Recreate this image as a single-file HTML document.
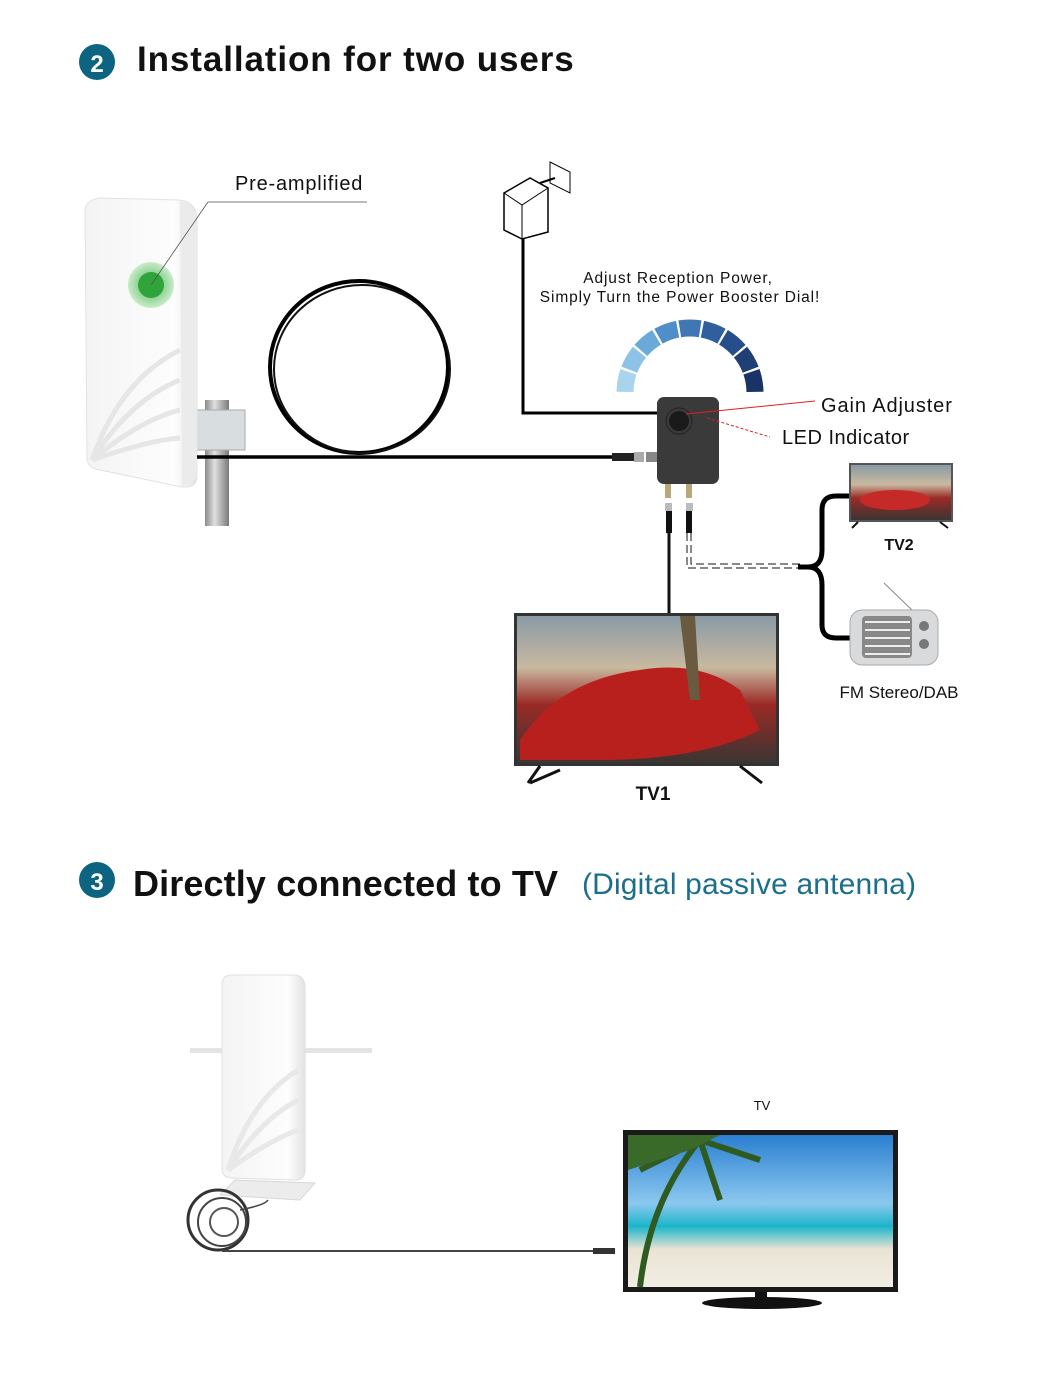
<!DOCTYPE html>
<html><head><meta charset="utf-8"><style>
html,body{margin:0;padding:0;background:#fff;}
svg{display:block;}
text{font-family:"Liberation Sans",sans-serif;}
</style></head><body>
<svg width="1045" height="1395" viewBox="0 0 1045 1395" xmlns="http://www.w3.org/2000/svg">
<defs>
<linearGradient id="pole" x1="0" x2="1"><stop offset="0" stop-color="#8a8a8a"/><stop offset=".4" stop-color="#e0e0e0"/><stop offset="1" stop-color="#7a7a7a"/></linearGradient>
<linearGradient id="ant" x1="0" x2="1"><stop offset="0" stop-color="#f4f4f4"/><stop offset=".8" stop-color="#fdfdfd"/><stop offset="1" stop-color="#e2e2e2"/></linearGradient>
<linearGradient id="scr1" x1="0" y1="0" x2="0" y2="1"><stop offset="0" stop-color="#8a9aa5"/><stop offset=".35" stop-color="#c9b9a0"/><stop offset=".6" stop-color="#9b2a25"/><stop offset="1" stop-color="#3a3533"/></linearGradient>
<linearGradient id="beach" x1="0" y1="0" x2="0" y2="1"><stop offset="0" stop-color="#2a7fd0"/><stop offset=".45" stop-color="#8cc8ef"/><stop offset=".6" stop-color="#1bb5c9"/><stop offset=".75" stop-color="#e9e3d3"/><stop offset="1" stop-color="#f2eee4"/></linearGradient>
<radialGradient id="glow"><stop offset=".5" stop-color="#2fa43a"/><stop offset=".55" stop-color="#8fd396"/><stop offset="1" stop-color="#c9ecc9"/></radialGradient>
</defs>

<circle cx="97" cy="62" r="18" fill="#0c6480"/>
<text x="97" y="72" text-anchor="middle" font-size="24" font-weight="bold" fill="#fff">2</text>
<text x="137" y="71" font-size="35" font-weight="bold" fill="#111" letter-spacing=".9">Installation for two users</text>

<rect x="205" y="400" width="24" height="126" fill="url(#pole)"/>
<path d="M196 410 L245 410 L245 450 L196 450 Z" fill="#d8dde0" stroke="#aaa"/>
<path d="M85 210 Q86 200 100 198 L180 200 Q196 202 197 218 L197 478 Q196 488 182 487 L100 470 Q87 468 87 458 Z" fill="url(#ant)" stroke="#e2e2e2"/>
<path d="M180 200 Q195 205 197 218 L197 478 L182 487 L180 200Z" fill="#ebebeb"/>
<path d="M92 460 Q120 380 180 350 M92 460 Q130 400 180 380 M92 460 Q140 420 180 410 M92 460 Q150 440 180 438" stroke="#e6e6e6" stroke-width="5" fill="none"/>
<circle cx="151" cy="285" r="23" fill="url(#glow)"/>
<circle cx="151" cy="285" r="13" fill="#2fa43a"/>
<line x1="151" y1="285" x2="208" y2="202" stroke="#555" stroke-width=".8"/>
<line x1="208" y1="202" x2="367" y2="202" stroke="#777" stroke-width="1"/>
<text x="235" y="190" font-size="20" fill="#111" letter-spacing=".8">Pre-amplified</text>

<ellipse cx="359" cy="367" rx="89" ry="86" fill="none" stroke="#000" stroke-width="4"/>
<ellipse cx="362" cy="369" rx="88" ry="84" fill="none" stroke="#111" stroke-width="2"/>
<line x1="197" y1="457" x2="620" y2="457" stroke="#000" stroke-width="3.5"/>
<rect x="612" y="453" width="22" height="8" fill="#222"/>
<rect x="634" y="452" width="10" height="10" fill="#aaa"/>
<rect x="646" y="452" width="12" height="10" fill="#888"/>

<path d="M504 193 L530 178 L548 188 L548 232 L522 239 L504 230 Z" fill="#fff" stroke="#000" stroke-width="1.5"/>
<path d="M504 193 L522 205 L548 188" fill="none" stroke="#000" stroke-width="1"/>
<line x1="522" y1="205" x2="522" y2="239" stroke="#000"/>
<path d="M550 162 L570 172 L570 193 L550 183 Z" fill="#fff" stroke="#000"/>
<line x1="540" y1="183" x2="555" y2="178" stroke="#000" stroke-width="2"/>
<polyline points="523,239 523,413 660,413" fill="none" stroke="#000" stroke-width="3"/>

<text x="678" y="283" text-anchor="middle" font-size="15.5" fill="#111" letter-spacing=".9">Adjust Reception Power,</text>
<text x="680" y="302" text-anchor="middle" font-size="15.5" fill="#111" letter-spacing=".9">Simply Turn the Power Booster Dial!</text>

<g fill="none" stroke-width="17">
<path d="M625.0 391.9 A65 65 0 0 1 628.5 371.8" stroke="#a8d4ee"/>
<path d="M629.3 369.7 A65 65 0 0 1 639.5 352.1" stroke="#8cc3e6"/>
<path d="M640.9 350.4 A65 65 0 0 1 656.5 337.3" stroke="#6aaadb"/>
<path d="M658.5 336.2 A65 65 0 0 1 677.6 329.2" stroke="#4f8ec9"/>
<path d="M679.8 328.8 A65 65 0 0 1 700.2 328.8" stroke="#3f76b3"/>
<path d="M702.4 329.2 A65 65 0 0 1 721.5 336.2" stroke="#2f5f9e"/>
<path d="M723.5 337.3 A65 65 0 0 1 739.1 350.4" stroke="#264e8a"/>
<path d="M740.5 352.1 A65 65 0 0 1 750.7 369.7" stroke="#1f3f75"/>
<path d="M751.5 371.8 A65 65 0 0 1 755.0 391.9" stroke="#1a3366"/>
</g>

<rect x="657" y="397" width="62" height="87" rx="7" fill="#3a3a3a"/>
<circle cx="679" cy="421" r="10" fill="#1a1a1a"/>
<circle cx="679" cy="421" r="13" fill="none" stroke="#222" stroke-width="1"/>
<rect x="665" y="484" width="6" height="14" fill="#b8a878"/>
<rect x="686" y="484" width="6" height="14" fill="#b8a878"/>
<line x1="686" y1="414" x2="815" y2="401" stroke="#e02020" stroke-width="1"/>
<line x1="707" y1="418" x2="770" y2="437" stroke="#e02020" stroke-width="1" stroke-dasharray="3,2"/>
<text x="821" y="412" font-size="20" fill="#111" letter-spacing=".9">Gain Adjuster</text>
<text x="782" y="444" font-size="20" fill="#111" letter-spacing=".5">LED Indicator</text>

<rect x="665" y="503" width="7" height="8" fill="#bbb"/>
<rect x="686" y="503" width="7" height="8" fill="#bbb"/>
<rect x="666" y="511" width="6" height="22" fill="#111"/>
<rect x="686" y="511" width="6" height="22" fill="#111"/>
<line x1="669" y1="533" x2="669" y2="614" stroke="#111" stroke-width="3"/>
<path d="M687 533 L687 568 L800 568" fill="none" stroke="#111" stroke-width="1" stroke-dasharray="8,4"/>
<path d="M691 533 L691 564 L800 564" fill="none" stroke="#111" stroke-width="1" stroke-dasharray="8,4"/>
<path d="M798 567 L808 567 Q822 567 822 550 L822 510 Q822 496 836 496 L850 496" fill="none" stroke="#000" stroke-width="5"/>
<path d="M808 567 Q822 567 822 585 L822 625 Q822 638 836 638 L852 638" fill="none" stroke="#000" stroke-width="5"/>

<rect x="849" y="463" width="104" height="59" fill="#555"/>
<rect x="851" y="465" width="100" height="55" fill="url(#scr1)"/>
<ellipse cx="895" cy="500" rx="35" ry="10" fill="#c62a28"/>
<line x1="858" y1="522" x2="852" y2="528" stroke="#111" stroke-width="2"/>
<line x1="940" y1="522" x2="948" y2="528" stroke="#111" stroke-width="2"/>
<text x="899" y="550" text-anchor="middle" font-size="16" font-weight="bold" fill="#111">TV2</text>

<line x1="884" y1="583" x2="912" y2="610" stroke="#888" stroke-width="1"/>
<rect x="850" y="610" width="88" height="55" rx="12" fill="#d8dadc" stroke="#aaa"/>
<rect x="862" y="616" width="50" height="42" rx="4" fill="#888"/>
<g stroke="#eee" stroke-width="2"><line x1="865" y1="622" x2="910" y2="622"/><line x1="865" y1="630" x2="910" y2="630"/><line x1="865" y1="638" x2="910" y2="638"/><line x1="865" y1="646" x2="910" y2="646"/><line x1="865" y1="654" x2="910" y2="654"/></g>
<circle cx="924" cy="626" r="5" fill="#777"/><circle cx="924" cy="644" r="5" fill="#777"/>
<text x="899" y="698" text-anchor="middle" font-size="17" fill="#111">FM Stereo/DAB</text>

<rect x="514" y="613" width="265" height="153" fill="#333"/>
<rect x="517" y="616" width="259" height="147" fill="url(#scr1)"/>
<path d="M520 740 Q560 680 640 670 Q700 660 740 690 L760 730 Q700 760 600 760 L520 760Z" fill="#b8201e"/>
<path d="M680 616 L690 700 L700 700 L695 616Z" fill="#6a5a40"/>
<path d="M540 766 L528 783 M530 783 L560 770" stroke="#111" stroke-width="3" fill="none"/>
<path d="M740 766 L762 783" stroke="#111" stroke-width="3"/>
<text x="653" y="800" text-anchor="middle" font-size="19" font-weight="bold" fill="#111">TV1</text>

<circle cx="97" cy="880" r="18" fill="#0c6480"/>
<text x="97" y="890" text-anchor="middle" font-size="24" font-weight="bold" fill="#fff">3</text>
<text x="133" y="896" font-size="36" font-weight="bold" fill="#111" textLength="425">Directly connected to TV</text>
<text x="582" y="894" font-size="30" fill="#1a6f8a" textLength="334">(Digital passive antenna)</text>

<rect x="190" y="1048" width="182" height="5" fill="#e4e4e4"/>
<path d="M222 985 Q222 975 232 975 L295 975 Q305 976 305 988 L305 1170 Q305 1180 295 1180 L232 1178 Q222 1178 222 1168 Z" fill="url(#ant)" stroke="#e0e0e0"/>
<path d="M228 1170 Q250 1100 298 1070 M228 1170 Q260 1120 298 1100 M228 1170 Q270 1140 298 1130" stroke="#e8e8e8" stroke-width="5" fill="none"/>
<path d="M235 1180 L315 1183 L300 1200 L220 1195 Z" fill="#ececec" stroke="#d8d8d8"/>
<circle cx="218" cy="1220" r="30" fill="none" stroke="#333" stroke-width="3"/>
<circle cx="222" cy="1222" r="24" fill="none" stroke="#444" stroke-width="2"/>
<circle cx="224" cy="1222" r="14" fill="none" stroke="#555" stroke-width="2"/>
<path d="M240 1210 Q265 1205 268 1200" stroke="#444" fill="none" stroke-width="1.5"/>
<line x1="222" y1="1251" x2="595" y2="1251" stroke="#444" stroke-width="2"/>
<rect x="593" y="1248" width="22" height="6" fill="#333"/>

<text x="762" y="1110" text-anchor="middle" font-size="13" fill="#111">TV</text>
<rect x="623" y="1130" width="275" height="162" fill="#1a1a1a"/>
<rect x="628" y="1135" width="265" height="152" fill="url(#beach)"/>
<path d="M640 1287 Q650 1200 700 1140 M700 1140 L640 1170 M700 1140 L760 1160 M700 1140 L720 1200" stroke="#2f5a20" stroke-width="6" fill="none"/>
<path d="M628 1135 L720 1135 L690 1150 L628 1170Z" fill="#3a6a2a"/>
<rect x="755" y="1292" width="12" height="8" fill="#111"/>
<ellipse cx="762" cy="1303" rx="60" ry="6" fill="#111"/>
</svg>
</body></html>
